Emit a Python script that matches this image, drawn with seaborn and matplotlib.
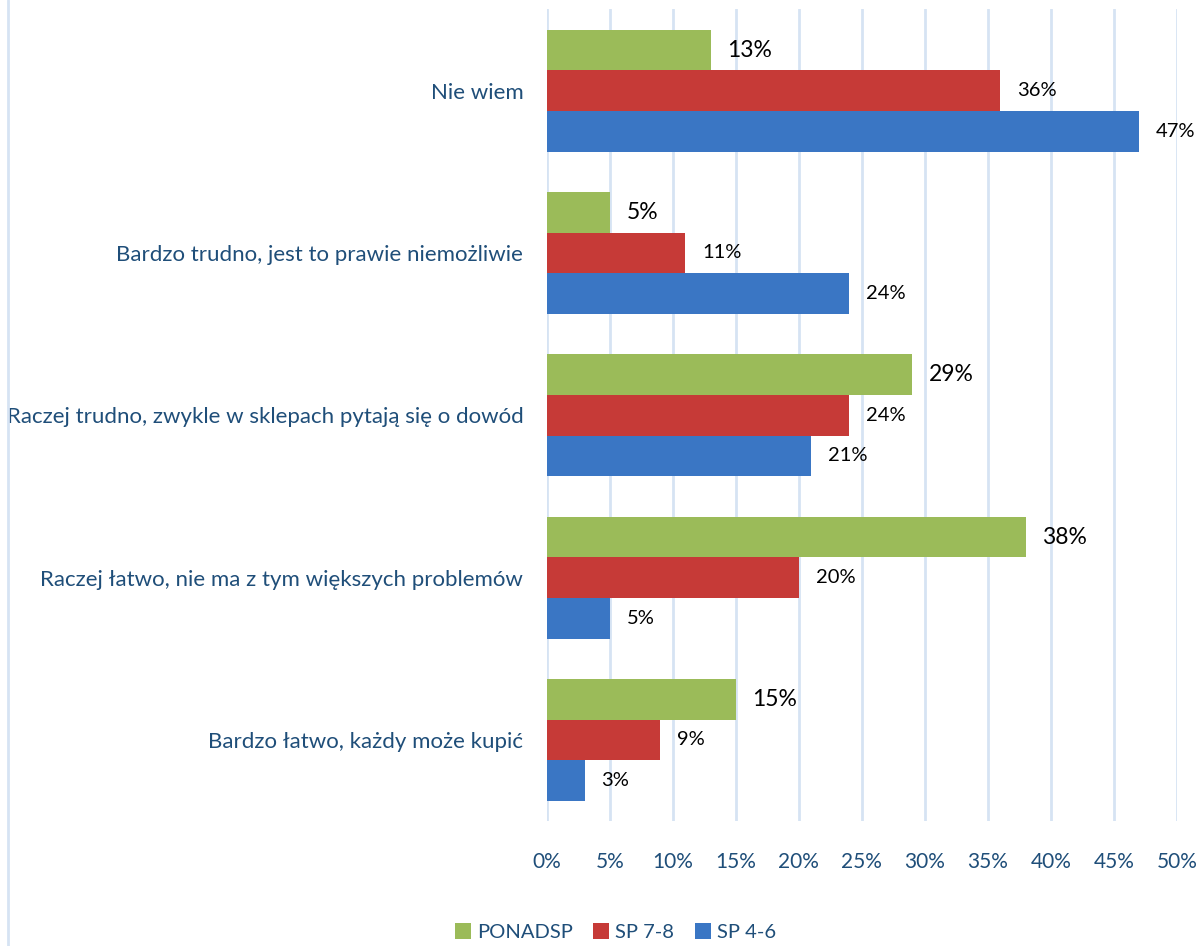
import pandas as pd
import matplotlib.pyplot as plt
import seaborn as sns
from matplotlib.lines import Line2D

# categories top to bottom
categories = [
    'Nie wiem',
    'Bardzo trudno, jest to prawie niemożliwie',
    'Raczej trudno, zwykle w sklepach pytają się o dowód',
    'Raczej łatwo, nie ma z tym większych problemów',
    'Bardzo łatwo, każdy może kupić',
]
series = ['PONADSP', 'SP 7-8', 'SP 4-6']
ponadsp = [13, 5, 29, 38, 15]
sp78 = [36, 11, 24, 20, 9]
sp46 = [47, 24, 21, 5, 3]
x_ticks = [0, 5, 10, 15, 20, 25, 30, 35, 40, 45, 50]

colors = {'PONADSP': '#9BBB59', 'SP 7-8': '#C63A37', 'SP 4-6': '#3A76C4'}
text_blue = '#1F4E79'
grid_col = '#D6E3F3'


def build_frame():
    rows = []
    for name, vals in zip(series, [ponadsp, sp78, sp46]):
        for cat, v in zip(categories, vals):
            rows.append({'cat': cat, 'group': name, 'value': v})
    return pd.DataFrame(rows)


def main():
    df = build_frame()
    sns.set_style('white')
    plt.rcParams['font.family'] = ['Lato', 'DejaVu Sans']

    fig = plt.figure(figsize=(12.02, 9.46), dpi=100)
    ax = fig.add_axes([0.455, 0.132, 0.524, 0.858])

    sns.barplot(data=df, y='cat', x='value', hue='group', order=categories,
                hue_order=series, palette=colors, orient='h', width=0.75,
                gap=0, saturation=1, errorbar=None, ax=ax, legend=True,
                linewidth=0)

    # value labels
    for cont, name in zip(ax.containers, series):
        size = 16.5 if name == 'PONADSP' else 14.5
        ax.bar_label(cont, labels=[f'{int(v)}%' for v in cont.datavalues],
                     padding=12, fontsize=size, color='black')

    ax.set_xlim(0, 50)
    ax.set_xticks(x_ticks)
    ax.set_xticklabels([f'{t}%' for t in x_ticks], color=text_blue, fontsize=15)
    ax.tick_params(axis='x', length=0, pad=22)
    ax.tick_params(axis='y', length=0, pad=17, labelsize=16, labelcolor=text_blue)
    ax.set_xlabel('')
    ax.set_ylabel('')
    for s in ax.spines.values():
        s.set_visible(False)
    ax.xaxis.grid(True, color=grid_col, linewidth=2)
    ax.set_axisbelow(True)

    handles, labels = ax.get_legend_handles_labels()
    ax.legend_.remove()
    fig.legend(handles, labels, loc='lower center', bbox_to_anchor=(0.512, -0.014),
               ncol=3, frameon=False, fontsize=14.5, handlelength=0.8,
               handleheight=0.8, handletextpad=0.3, columnspacing=1.0,
               labelcolor=text_blue)

    # thin border line at the left edge
    fig.add_artist(Line2D([0.007, 0.007], [0, 1], transform=fig.transFigure,
                          color=grid_col, linewidth=2))

    fig.savefig('out.png', dpi=100)


if __name__ == "__main__":
    main()
